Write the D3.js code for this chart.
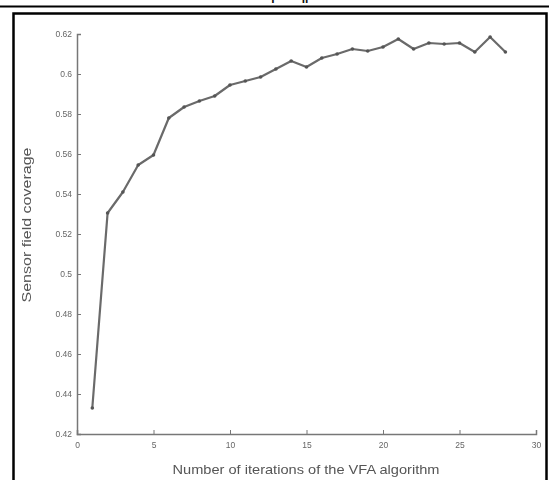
<!DOCTYPE html>
<html>
<head>
<meta charset="utf-8">
<script src="https://cdn.jsdelivr.net/npm/d3@7"></script>
<style>
  body { margin: 0; background: #fff; }
  text { font-family: "Liberation Sans", Arial, sans-serif; fill: #666; }
</style>
</head>
<body>
<svg id="chart" width="549" height="480"></svg>
<script>
// iterations of the VFA algorithm and the coverage
const iterations = d3.range(1, 29);
const coverage = [0.433, 0.5305, 0.541, 0.5545, 0.5595, 0.578, 0.5835, 0.5865, 0.589, 0.5945,
                  0.5965, 0.5985, 0.6025, 0.6065, 0.6035, 0.608, 0.610, 0.6125, 0.6115, 0.6135,
                  0.6175, 0.6125, 0.6155, 0.615, 0.6155, 0.611, 0.6185, 0.611];
const xTicks = [0, 5, 10, 15, 20, 25, 30];
const yTicks = [0.42, 0.44, 0.46, 0.48, 0.5, 0.52, 0.54, 0.56, 0.58, 0.6, 0.62];

const svg = d3.select("#chart");

// page frame: rule at the top, cut-off caption and the figure box
svg.append("line").attr("x1", 0).attr("x2", 549).attr("y1", 6.5).attr("y2", 6.5)
    .attr("stroke", "#000").attr("stroke-width", 2);
svg.append("text").attr("x", 273).attr("y", 3).attr("text-anchor", "middle")
    .style("font-size", "12px").style("fill", "#111").style("font-weight", "bold").text("l");
svg.append("text").attr("x", 305).attr("y", 3).attr("text-anchor", "middle")
    .style("font-size", "12px").style("fill", "#111").style("font-weight", "bold").text("ll");
svg.append("rect").attr("x", 13.5).attr("y", 13.5).attr("width", 533).attr("height", 480)
    .attr("fill", "none").attr("stroke", "#000").attr("stroke-width", 2.5);

svg.append("defs").append("filter").attr("id", "soft")
    .append("feGaussianBlur").attr("stdDeviation", 0.5);

const g = svg.append("g").attr("filter", "url(#soft)");

const x = d3.scaleLinear().domain([0, 30]).range([77, 536]);
const y = d3.scaleLinear().domain([0.42, 0.62]).range([434, 34]);

// axes with inward ticks, MATLAB style
const xAxis = g.append("g").attr("transform", `translate(0,${y(0.42)})`)
    .call(d3.axisBottom(x).tickValues(xTicks).tickSize(-4).tickPadding(8).tickFormat(d3.format("d")));
const yAxis = g.append("g").attr("transform", `translate(${x(0)},0)`)
    .call(d3.axisLeft(y).tickValues(yTicks).tickSize(-4).tickPadding(5).tickFormat(d => String(+d.toFixed(2))));

[xAxis, yAxis].forEach(a => {
    a.select(".domain").attr("stroke", "#777").attr("stroke-width", 1.5);
    a.selectAll(".tick line").attr("stroke", "#777");
    a.selectAll(".tick text").style("font-size", "8.5px").style("fill", "#666");
});

const line = d3.line().x((d, i) => x(iterations[i])).y(d => y(d));
g.append("path").datum(coverage).attr("d", line)
    .attr("fill", "none").attr("stroke", "#6a6a6a").attr("stroke-width", 2.2)
    .attr("stroke-linejoin", "round");

g.selectAll(".pt").data(coverage).enter().append("circle")
    .attr("class", "pt")
    .attr("cx", (d, i) => x(iterations[i])).attr("cy", d => y(d))
    .attr("r", 1.8).attr("fill", "#555");

g.append("text").attr("x", 306).attr("y", 474).attr("text-anchor", "middle")
    .attr("textLength", 267).attr("lengthAdjust", "spacingAndGlyphs")
    .style("font-size", "13px").style("fill", "#555")
    .text("Number of iterations of the VFA algorithm");
g.append("text").attr("transform", `translate(31,225) rotate(-90)`).attr("text-anchor", "middle")
    .attr("textLength", 155).attr("lengthAdjust", "spacingAndGlyphs")
    .style("font-size", "13px").style("fill", "#555")
    .text("Sensor field coverage");
</script>
</body>
</html>
